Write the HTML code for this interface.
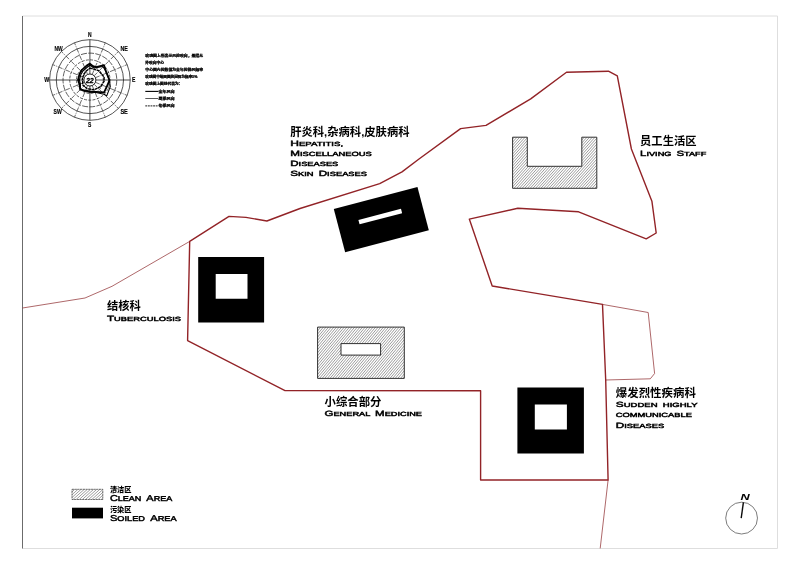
<!DOCTYPE html>
<html lang="zh">
<head>
<meta charset="utf-8">
<title>Site Plan</title>
<style>
html,body{margin:0;padding:0;background:#fff;width:800px;height:565px;overflow:hidden}
svg{display:block;position:absolute;left:0;top:0;will-change:transform}
text{font-family:"Liberation Sans","Noto Sans CJK SC",sans-serif;fill:#000}
.cn{font-family:"Liberation Sans","Noto Sans CJK SC",sans-serif;font-size:11.6px;font-weight:700;fill:#000}
.en{font-family:"Liberation Sans",sans-serif;font-weight:normal;fill:#000;stroke:#000;stroke-width:0.45px;vector-effect:non-scaling-stroke;text-rendering:geometricPrecision}
.dir{font-family:"Liberation Sans",sans-serif;font-weight:bold;font-size:6.7px;fill:#000;stroke:#000;stroke-width:0.15px}
.tiny{font-family:"Liberation Sans","Noto Sans CJK SC",sans-serif;font-weight:900;font-size:10px;fill:#000;stroke:#000;stroke-width:0.7px}
</style>
</head>
<body>
<svg width="800" height="565" viewBox="0 0 800 565">
<defs>
<clipPath id="cR"><path clip-rule="evenodd" d="M317.6 327.1 H404.3 V378.4 H317.6 Z M341 343.6 H380.6 V355.1 H341 Z"/></clipPath>
<clipPath id="cU"><path d="M512.6 137.2 H527.3 V166.3 H581.8 V137.2 H596.8 V188.3 H512.6 Z"/></clipPath>
<clipPath id="cL"><rect x="72" y="489.3" width="30.8" height="10.2"/></clipPath>
</defs>
<rect width="800" height="565" fill="#fff"/>

<!-- page frame -->
<g fill="none" stroke-linecap="butt">
<path d="M22.5 16 H777.5 V548.5 H22.5" stroke="#dedede" stroke-width="1"/>
<path d="M22.5 16 V548.5" stroke="#5a5a5a" stroke-width="0.9"/>
</g>

<!-- thin site lines -->
<g fill="none" stroke="#933538" stroke-width="0.75" stroke-linejoin="round">
<path d="M22.5 308 L85 298 L112 286.3 L189.7 241.4"/>
<path d="M602.5 304.4 L648.2 312.5 L654.6 373.5 L650.3 378.8 L605.7 380"/>
<path d="M608.1 480 L600.2 548.4"/>
</g>

<!-- main boundary -->
<path fill="none" stroke="#922327" stroke-width="1.4" stroke-linejoin="round"
d="M189.7 241.4 L229 216.4 L246 217.4 L266.9 221 L300 208.5 L379.7 183.6 L402 171.9 L419 159 L460.6 128.6 L486 125.4 L530.7 98.9 L566.5 72.3 L608.4 71.2 L617.3 75.9 L631.4 149 L651.9 201.2 L656.2 233 L646.2 238.8 L578.6 211.8 L517.8 208.3 L469.3 219.1 L492.2 286 L602.5 304.4 L605.7 380 L608.1 480 L480.6 480 L480.6 390.8 L285 390.6 L187.6 340.6 Z"/>

<!-- buildings -->
<g id="bldg">
<path fill="#000" fill-rule="evenodd" d="M198.2 257 H264.1 V322.5 H198.2 Z M215.7 274 H247.5 V298.7 H215.7 Z"/>
<path fill="#000" fill-rule="evenodd" d="M517.4 387.6 H583.9 V453.5 H517.4 Z M534.8 404.6 H566.9 V429.5 H534.8 Z"/>
<g transform="translate(381.3 219.7) rotate(-14.7)">
<rect x="-43.25" y="-22.35" width="86.5" height="44.7" fill="#000"/>
<rect x="-22.2" y="-5.6" width="44" height="4.6" fill="#fff"/>
</g>
<path clip-path="url(#cR)" fill="none" stroke="#3a3a3a" stroke-width="0.5" d="M272.5 378.4L315.6 327.1M275.1 378.4L318.2 327.1M277.8 378.4L320.8 327.1M280.4 378.4L323.4 327.1M283.0 378.4L326.0 327.1M285.6 378.4L328.6 327.1M288.2 378.4L331.2 327.1M290.8 378.4L333.9 327.1M293.4 378.4L336.5 327.1M296.0 378.4L339.1 327.1M298.6 378.4L341.7 327.1M301.2 378.4L344.3 327.1M303.9 378.4L346.9 327.1M306.5 378.4L349.5 327.1M309.1 378.4L352.1 327.1M311.7 378.4L354.7 327.1M314.3 378.4L357.3 327.1M316.9 378.4L360.0 327.1M319.5 378.4L362.6 327.1M322.1 378.4L365.2 327.1M324.7 378.4L367.8 327.1M327.4 378.4L370.4 327.1M330.0 378.4L373.0 327.1M332.6 378.4L375.6 327.1M335.2 378.4L378.2 327.1M337.8 378.4L380.8 327.1M340.4 378.4L383.5 327.1M343.0 378.4L386.1 327.1M345.6 378.4L388.7 327.1M348.2 378.4L391.3 327.1M350.9 378.4L393.9 327.1M353.5 378.4L396.5 327.1M356.1 378.4L399.1 327.1M358.7 378.4L401.7 327.1M361.3 378.4L404.3 327.1M363.9 378.4L407.0 327.1M366.5 378.4L409.6 327.1M369.1 378.4L412.2 327.1M371.7 378.4L414.8 327.1M374.4 378.4L417.4 327.1M377.0 378.4L420.0 327.1M379.6 378.4L422.6 327.1M382.2 378.4L425.2 327.1M384.8 378.4L427.8 327.1M387.4 378.4L430.5 327.1M390.0 378.4L433.1 327.1M392.6 378.4L435.7 327.1M395.2 378.4L438.3 327.1M397.8 378.4L440.9 327.1M400.5 378.4L443.5 327.1M403.1 378.4L446.1 327.1M405.7 378.4L448.7 327.1"/>
<path fill="none" stroke="#262626" stroke-width="0.95" d="M317.6 327.1 H404.3 V378.4 H317.6 Z M341 343.6 H380.6 V355.1 H341 Z"/>
<path clip-path="url(#cU)" fill="none" stroke="#3a3a3a" stroke-width="0.5" d="M465.6 188.3L511.6 137.2M468.3 188.3L514.3 137.2M471.0 188.3L517.0 137.2M473.7 188.3L519.7 137.2M476.4 188.3L522.4 137.2M479.0 188.3L525.1 137.2M481.7 188.3L527.8 137.2M484.4 188.3L530.4 137.2M487.1 188.3L533.1 137.2M489.8 188.3L535.8 137.2M492.5 188.3L538.5 137.2M495.2 188.3L541.2 137.2M497.9 188.3L543.9 137.2M500.6 188.3L546.6 137.2M503.3 188.3L549.3 137.2M506.0 188.3L552.0 137.2M508.7 188.3L554.7 137.2M511.3 188.3L557.4 137.2M514.0 188.3L560.0 137.2M516.7 188.3L562.7 137.2M519.4 188.3L565.4 137.2M522.1 188.3L568.1 137.2M524.8 188.3L570.8 137.2M527.5 188.3L573.5 137.2M530.2 188.3L576.2 137.2M532.9 188.3L578.9 137.2M535.6 188.3L581.6 137.2M538.3 188.3L584.3 137.2M540.9 188.3L587.0 137.2M543.6 188.3L589.6 137.2M546.3 188.3L592.3 137.2M549.0 188.3L595.0 137.2M551.7 188.3L597.7 137.2M554.4 188.3L600.4 137.2M557.1 188.3L603.1 137.2M559.8 188.3L605.8 137.2M562.5 188.3L608.5 137.2M565.2 188.3L611.2 137.2M567.9 188.3L613.9 137.2M570.6 188.3L616.6 137.2M573.2 188.3L619.3 137.2M575.9 188.3L621.9 137.2M578.6 188.3L624.6 137.2M581.3 188.3L627.3 137.2M584.0 188.3L630.0 137.2M586.7 188.3L632.7 137.2M589.4 188.3L635.4 137.2M592.1 188.3L638.1 137.2M594.8 188.3L640.8 137.2M597.5 188.3L643.5 137.2"/>
<path fill="none" stroke="#262626" stroke-width="0.95" d="M512.6 137.2 H527.3 V166.3 H581.8 V137.2 H596.8 V188.3 H512.6 Z"/>
</g>

<!-- legend swatches -->
<path clip-path="url(#cL)" fill="none" stroke="#3a3a3a" stroke-width="0.5" d="M60.4 499.5L71.7 489.3M63.5 499.5L74.8 489.3M66.7 499.5L78.0 489.3M69.8 499.5L81.1 489.3M72.9 499.5L84.3 489.3M76.1 499.5L87.4 489.3M79.2 499.5L90.5 489.3M82.3 499.5L93.7 489.3M85.5 499.5L96.8 489.3M88.6 499.5L99.9 489.3M91.8 499.5L103.1 489.3M94.9 499.5L106.2 489.3M98.0 499.5L109.4 489.3M101.2 499.5L112.5 489.3M104.3 499.5L115.6 489.3"/>
<rect x="72" y="489.3" width="30.8" height="10.2" fill="none" stroke="#333" stroke-width="0.7" stroke-dasharray="2.2 0.5"/>
<rect x="72" y="507.7" width="31" height="10.7" fill="#000"/>

<!-- labels -->
<g id="labels">
<text class="cn" x="290.2" y="135.8" textLength="119.3" lengthAdjust="spacingAndGlyphs">肝炎科,杂病科,皮肤病科</text>
<g transform="translate(290.2 146.3) scale(1.7 1)"><text class="en" x="0" y="0" textLength="31.12" lengthAdjust="spacingAndGlyphs" xml:space="preserve"><tspan font-size="7.5">H</tspan><tspan font-size="6.0">EPATITIS,</tspan></text></g>
<g transform="translate(290.2 156.2) scale(1.7 1)"><text class="en" x="0" y="0" textLength="48.06" lengthAdjust="spacingAndGlyphs" xml:space="preserve"><tspan font-size="7.5">M</tspan><tspan font-size="6.0">ISCELLANEOUS</tspan></text></g>
<g transform="translate(290.2 166.0) scale(1.7 1)"><text class="en" x="0" y="0" textLength="28.29" lengthAdjust="spacingAndGlyphs" xml:space="preserve"><tspan font-size="7.5">D</tspan><tspan font-size="6.0">ISEASES</tspan></text></g>
<g transform="translate(290.2 175.9) scale(1.7 1)"><text class="en" x="0" y="0" textLength="45.18" lengthAdjust="spacingAndGlyphs" xml:space="preserve"><tspan font-size="7.5">S</tspan><tspan font-size="6.0">KIN  </tspan><tspan font-size="7.5">D</tspan><tspan font-size="6.0">ISEASES</tspan></text></g>
<text class="cn" x="640.1" y="145.4" textLength="56.4" lengthAdjust="spacingAndGlyphs">员工生活区</text>
<g transform="translate(640.1 155.5) scale(1.7 1)"><text class="en" x="0" y="0" textLength="38.94" lengthAdjust="spacingAndGlyphs" xml:space="preserve"><tspan font-size="7.5">L</tspan><tspan font-size="6.0">IVING  </tspan><tspan font-size="7.5">S</tspan><tspan font-size="6.0">TAFF</tspan></text></g>
<text class="cn" x="107" y="309.8" textLength="33.8" lengthAdjust="spacingAndGlyphs">结核科</text>
<g transform="translate(107 320.7) scale(1.7 1)"><text class="en" x="0" y="0" textLength="43.53" lengthAdjust="spacingAndGlyphs" xml:space="preserve"><tspan font-size="7.5">T</tspan><tspan font-size="6.0">UBERCULOSIS</tspan></text></g>
<text class="cn" x="324.5" y="406.2" textLength="56.9" lengthAdjust="spacingAndGlyphs">小综合部分</text>
<g transform="translate(324.5 416.0) scale(1.7 1)"><text class="en" x="0" y="0" textLength="57.35" lengthAdjust="spacingAndGlyphs" xml:space="preserve"><tspan font-size="7.5">G</tspan><tspan font-size="6.0">ENERAL  </tspan><tspan font-size="7.5">M</tspan><tspan font-size="6.0">EDICINE</tspan></text></g>
<text class="cn" x="615.8" y="397.1" textLength="80.1" lengthAdjust="spacingAndGlyphs">爆发烈性疾病科</text>
<g transform="translate(615.8 407.2) scale(1.7 1)"><text class="en" x="0" y="0" textLength="48.06" lengthAdjust="spacingAndGlyphs" xml:space="preserve"><tspan font-size="7.5">S</tspan><tspan font-size="6.0">UDDEN  HIGHLY</tspan></text></g>
<g transform="translate(615.8 417.4) scale(1.7 1)"><text class="en" x="0" y="0" textLength="44.76" lengthAdjust="spacingAndGlyphs" xml:space="preserve"><tspan font-size="6.0">COMMUNICABLE</tspan></text></g>
<g transform="translate(615.8 428.0) scale(1.7 1)"><text class="en" x="0" y="0" textLength="28.59" lengthAdjust="spacingAndGlyphs" xml:space="preserve"><tspan font-size="7.5">D</tspan><tspan font-size="6.0">ISEASES</tspan></text></g>
<text class="cn" style="font-size:7px;font-weight:900" x="109.9" y="491.9" textLength="21.6" lengthAdjust="spacingAndGlyphs">清洁区</text>
<g transform="translate(109.9 500.5) scale(1.7 1)"><text class="en" x="0" y="0" textLength="36.65" lengthAdjust="spacingAndGlyphs" xml:space="preserve"><tspan font-size="8.5">C</tspan><tspan font-size="7.0">LEAN  </tspan><tspan font-size="8.5">A</tspan><tspan font-size="7.0">REA</tspan></text></g>
<text class="cn" style="font-size:7px;font-weight:900" x="109.9" y="512.2" textLength="21.6" lengthAdjust="spacingAndGlyphs">污染区</text>
<g transform="translate(109.9 520.9) scale(1.7 1)"><text class="en" x="0" y="0" textLength="39.24" lengthAdjust="spacingAndGlyphs" xml:space="preserve"><tspan font-size="8.5">S</tspan><tspan font-size="7.0">OILED  </tspan><tspan font-size="8.5">A</tspan><tspan font-size="7.0">REA</tspan></text></g>
</g>

<!-- wind rose -->
<g id="rose" fill="none" stroke="#1c1c1c">
<circle cx="89.9" cy="80.0" r="13.44" stroke-width="0.7" stroke-dasharray="3 1.3"/>
<circle cx="89.9" cy="80.0" r="20.16" stroke-width="0.7" stroke-dasharray="3 1.3"/>
<circle cx="89.9" cy="80.0" r="26.88" stroke-width="0.7" stroke-dasharray="6 1.3"/>
<circle cx="89.9" cy="80.0" r="33.60" stroke-width="0.75"/>
<circle cx="89.9" cy="80.0" r="40.32" stroke-width="0.75"/>
<line x1="89.90" y1="74.00" x2="89.90" y2="39.68" stroke-width="0.8"/>
<line x1="92.20" y1="74.46" x2="105.33" y2="42.75" stroke-width="0.65" stroke-dasharray="4.5 1.2 1 1.2"/>
<line x1="94.14" y1="75.76" x2="118.41" y2="51.49" stroke-width="0.65" stroke-dasharray="4.5 1.2 1 1.2"/>
<line x1="95.44" y1="77.70" x2="127.15" y2="64.57" stroke-width="0.65" stroke-dasharray="4.5 1.2 1 1.2"/>
<line x1="95.90" y1="80.00" x2="130.22" y2="80.00" stroke-width="0.8"/>
<line x1="95.44" y1="82.30" x2="127.15" y2="95.43" stroke-width="0.65" stroke-dasharray="4.5 1.2 1 1.2"/>
<line x1="94.14" y1="84.24" x2="118.41" y2="108.51" stroke-width="0.65" stroke-dasharray="4.5 1.2 1 1.2"/>
<line x1="92.20" y1="85.54" x2="105.33" y2="117.25" stroke-width="0.65" stroke-dasharray="4.5 1.2 1 1.2"/>
<line x1="89.90" y1="86.00" x2="89.90" y2="120.32" stroke-width="0.8"/>
<line x1="87.60" y1="85.54" x2="74.47" y2="117.25" stroke-width="0.65" stroke-dasharray="4.5 1.2 1 1.2"/>
<line x1="85.66" y1="84.24" x2="61.39" y2="108.51" stroke-width="0.65" stroke-dasharray="4.5 1.2 1 1.2"/>
<line x1="84.36" y1="82.30" x2="52.65" y2="95.43" stroke-width="0.65" stroke-dasharray="4.5 1.2 1 1.2"/>
<line x1="83.90" y1="80.00" x2="49.58" y2="80.00" stroke-width="0.8"/>
<line x1="84.36" y1="77.70" x2="52.65" y2="64.57" stroke-width="0.65" stroke-dasharray="4.5 1.2 1 1.2"/>
<line x1="85.66" y1="75.76" x2="61.39" y2="51.49" stroke-width="0.65" stroke-dasharray="4.5 1.2 1 1.2"/>
<line x1="87.60" y1="74.46" x2="74.47" y2="42.75" stroke-width="0.65" stroke-dasharray="4.5 1.2 1 1.2"/>
<polygon points="89.9,68.1 98.7,70.7 104.1,76.9 104.1,81.3 100.5,86.6 94.3,89.7 87.2,88.8 82.8,84.9 82.4,77.8 85.5,71.6" stroke="#000" stroke-width="1.4" stroke-dasharray="3 0.5" stroke-linejoin="round"/>
<polygon points="89.9,65.0 93.9,68.0 102.9,66.5 106.9,73.0 109.4,80.5 110.3,86.6 106.7,95.9 104.1,94.2 95.9,92.5 89.9,92.3 84.9,91.5 80.4,88.5 80.4,84.0 79.4,80.0 80.9,74.5 82.9,71.0 86.9,67.5" stroke="#000" stroke-width="1.1" stroke-linejoin="round"/>
<polygon points="89.9,63.6 93.0,66.1 96.1,67.2 104.1,65.2 106.0,71.6 109.4,80.0 108.0,84.0 104.1,92.4 96.1,91.9 89.9,91.5 85.5,90.6 80.2,89.7 79.7,84.9 78.0,80.0 79.7,73.8 81.9,69.8 86.4,65.8" stroke="#000" stroke-width="1.8" stroke-linejoin="round"/>
<circle cx="89.9" cy="80.0" r="6.0" stroke-width="1" fill="#fff"/>
</g>
<g id="dirs">
<text class="dir" x="88.1" y="37.0" textLength="3.6" lengthAdjust="spacingAndGlyphs">N</text>
<text class="dir" x="120.4" y="50.5" textLength="7.4" lengthAdjust="spacingAndGlyphs">NE</text>
<text class="dir" x="132.1" y="82.2" textLength="3.4" lengthAdjust="spacingAndGlyphs">E</text>
<text class="dir" x="120.4" y="114.2" textLength="7.4" lengthAdjust="spacingAndGlyphs">SE</text>
<text class="dir" x="88.1" y="127.0" textLength="3.3" lengthAdjust="spacingAndGlyphs">S</text>
<text class="dir" x="53.6" y="114.2" textLength="8.2" lengthAdjust="spacingAndGlyphs">SW</text>
<text class="dir" x="44.2" y="82.2" textLength="5.0" lengthAdjust="spacingAndGlyphs">W</text>
<text class="dir" x="54.5" y="50.5" textLength="8.2" lengthAdjust="spacingAndGlyphs">NW</text>
<text x="85.9" y="82.8" font-size="7.8" font-weight="bold" font-style="italic" stroke="#000" stroke-width="0.35" textLength="7.8" lengthAdjust="spacingAndGlyphs" style="font-family:'Liberation Sans',sans-serif">22</text>
</g>
<g id="rosetext">
<g transform="translate(145.3 55.50) scale(0.355)"><text class="tiny" x="0" y="3.7" textLength="162.8" lengthAdjust="spacingAndGlyphs">玫瑰图上所表示风的吹向，是指从</text></g>
<g transform="translate(145.3 62.60) scale(0.355)"><text class="tiny" x="0" y="3.7" textLength="53.0" lengthAdjust="spacingAndGlyphs">外吹向中心</text></g>
<g transform="translate(145.3 69.80) scale(0.355)"><text class="tiny" x="0" y="3.7" textLength="162.8" lengthAdjust="spacingAndGlyphs">中心圈内的数值为全年的静风频率</text></g>
<g transform="translate(145.3 77.00) scale(0.355)"><text class="tiny" x="0" y="3.7" textLength="147.0" lengthAdjust="spacingAndGlyphs">玫瑰图中每圆圈的间隔为频率5%</text></g>
<g transform="translate(145.3 84.10) scale(0.355)"><text class="tiny" x="0" y="3.7" textLength="104.2" lengthAdjust="spacingAndGlyphs">玫瑰图上图线代表为：</text></g>
<line x1="145.3" y1="91.4" x2="158.5" y2="91.4" stroke="#000" stroke-width="1.1"/>
<g transform="translate(158.5 91.50) scale(0.355)"><text class="tiny" x="0" y="3.7" textLength="45.4" lengthAdjust="spacingAndGlyphs">全年风向</text></g>
<line x1="145.3" y1="98.5" x2="158.5" y2="98.5" stroke="#111" stroke-width="0.7"/>
<g transform="translate(158.5 98.60) scale(0.355)"><text class="tiny" x="0" y="3.7" textLength="45.4" lengthAdjust="spacingAndGlyphs">夏季风向</text></g>
<line x1="145.3" y1="105.9" x2="158.5" y2="105.9" stroke="#000" stroke-width="0.9" stroke-dasharray="1.9 0.7"/>
<g transform="translate(158.5 106.00) scale(0.355)"><text class="tiny" x="0" y="3.7" textLength="45.4" lengthAdjust="spacingAndGlyphs">冬季风向</text></g>
</g>

<!-- north arrow -->
<g id="north">
<circle cx="741.6" cy="518.1" r="15.9" fill="none" stroke="#5a5a5a" stroke-width="0.8"/>
<line x1="741.2" y1="518.2" x2="743.4" y2="502.4" stroke="#0a0a0a" stroke-width="1.4"/>
<text x="740.4" y="499.5" font-size="8.8" font-weight="bold" font-style="italic" textLength="9.2" lengthAdjust="spacingAndGlyphs" style="font-family:'Liberation Sans',sans-serif">N</text>
</g>

</svg>
</body>
</html>
